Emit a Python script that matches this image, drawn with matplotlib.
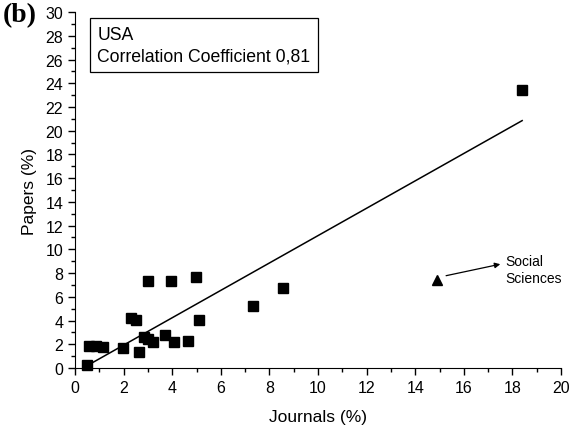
import numpy as np
import matplotlib as mpl
import matplotlib.pyplot as plt

mpl.rcParams['font.family'] = ['Liberation Sans', 'DejaVu Sans']

# share of journals vs share of papers per field (USA)
journals = [0.48, 0.59, 0.86, 1.17, 1.96, 2.29, 2.51, 2.65, 2.84, 3.02,
            3.20, 3.00, 3.70, 3.95, 4.07, 4.65, 4.97, 5.10, 7.34, 8.56, 18.41]
papers = [0.25, 1.83, 1.88, 1.80, 1.71, 4.19, 4.07, 1.37, 2.59, 2.44,
          2.22, 7.36, 2.80, 7.30, 2.22, 2.25, 7.69, 4.04, 5.25, 6.74, 23.45]

# social sciences outlier
soc_x = [14.88]
soc_y = [7.45]

# fitted line end points
fit_x = [0.5, 18.4]
fit_y = [0.2, 20.85]

fig = plt.figure(figsize=(5.74, 4.35), dpi=100)
ax = fig.add_axes([0.1307, 0.1517, 0.8467, 0.8183])

ax.plot(fit_x, fit_y, color='k', lw=1.1, zorder=2)
ax.plot(journals, papers, 's', color='k', ms=6.5, zorder=3, clip_on=False)
ax.plot(soc_x, soc_y, '^', color='k', ms=7, zorder=3)

ax.annotate('', xy=(17.5, 8.75), xytext=(15.27, 7.78),
            arrowprops=dict(arrowstyle='-|>', color='k', lw=0.9,
                            mutation_scale=8, shrinkA=0, shrinkB=0))
ax.text(17.7, 8.3, 'Social\nSciences', fontsize=10, va='center', ha='left',
        linespacing=1.3)

ax.text(0.046, 0.962, 'USA\nCorrelation Coefficient 0,81', transform=ax.transAxes,
        fontsize=12.7, va='top', ha='left', linespacing=1.4,
        bbox=dict(boxstyle='square,pad=0.42', fc='white', ec='k', lw=0.9))

ax.set_xlim(0, 20)
ax.set_ylim(0, 30)
ax.set_xticks(np.arange(0, 21, 2))
ax.set_yticks(np.arange(0, 31, 2))
ax.set_xticks(np.arange(0, 21, 1), minor=True)
ax.set_yticks(np.arange(0, 31, 1), minor=True)
ax.tick_params(labelsize=11.5, direction='out', length=5, width=1)
ax.tick_params(which='minor', direction='out', length=3, width=1)
ax.spines['top'].set_visible(False)
ax.spines['right'].set_visible(False)
ax.set_xlabel('Journals (%)', fontsize=12.5, labelpad=10)
ax.set_ylabel('Papers (%)', fontsize=12.5, labelpad=6)

fig.text(0.004, 0.992, '(b)', fontsize=20, fontweight='bold',
         family='Liberation Serif', va='top', ha='left')

fig.savefig('out.png', dpi=100)
